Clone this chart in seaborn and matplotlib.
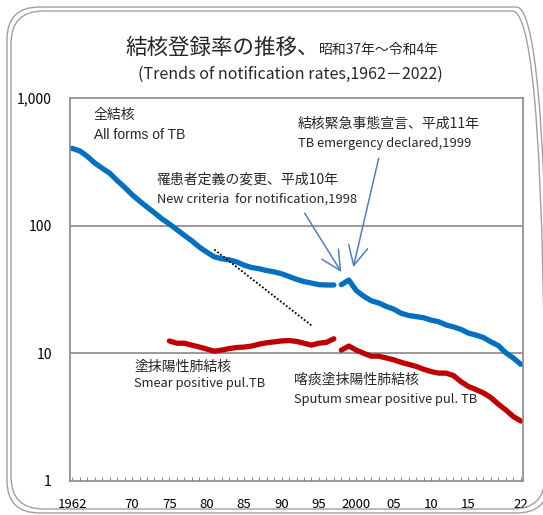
import numpy as np
import pandas as pd
import matplotlib
matplotlib.use("Agg")
import matplotlib.pyplot as plt
import seaborn as sns
from matplotlib.patches import FancyBboxPatch

# ---------------- data ----------------
all_years_1 = list(range(1962, 1998))
all_tb_1 = [403, 385, 350, 310, 282, 258, 226, 200, 175, 156, 140, 126, 113, 103,
            93, 84, 76, 68, 62, 57, 55, 54, 52, 49, 47, 46, 44.5, 43.5, 42, 40,
            38, 36.5, 35.5, 34.5, 34.3, 34.3]
all_years_2 = list(range(1998, 2023))
all_tb_2 = [34.5, 37.5, 31.0, 28.0, 25.8, 24.8, 23.3, 22.2, 20.6, 19.8, 19.4, 19.0,
            18.2, 17.7, 16.7, 16.1, 15.4, 14.4, 13.9, 13.3, 12.3, 11.5, 10.1, 9.2, 8.2]
smear_years = list(range(1975, 1998))
smear_pos = [12.5, 12.0, 12.0, 11.6, 11.2, 10.8, 10.4, 10.6, 10.9, 11.1, 11.2, 11.4,
             11.8, 12.1, 12.3, 12.5, 12.6, 12.4, 12.0, 11.6, 12.0, 12.2, 13.0]
sputum_years = list(range(1998, 2023))
sputum_pos = [10.6, 11.4, 10.6, 10.0, 9.5, 9.5, 9.2, 8.9, 8.5, 8.2, 7.9, 7.5, 7.2,
              7.0, 7.0, 6.7, 6.0, 5.5, 5.2, 4.9, 4.5, 4.0, 3.6, 3.2, 2.95]
trend_years = [1981, 1994.2]
trend_vals = [65, 16.2]

xtick_pos = [1962, 1970, 1975, 1980, 1985, 1990, 1995, 2000, 2005, 2010, 2015, 2022]
xtick_labels = ["1962", "70", "75", "80", "85", "90", "95", "2000", "05", "10", "15", "22"]
ytick_pos = [1, 10, 100, 1000]
ytick_labels = ["1", "10", "100", "1,000"]

# arrow (tail -> head) targets in data units
arrow_1998 = ((1993.1, 125), (1998.0, 43.3))
arrow_1999 = ((2003.0, 338), (1999.6, 47.3))

# ---------------- style ----------------
sns.set_theme(style="white")
JP = ["Noto Sans CJK JP", "DejaVu Sans"]
plt.rcParams["font.family"] = JP

BLUE = "#0070C0"
RED = "#C00000"
GRAY = "#898989"
ARROW = "#4F7FC0"

fig = plt.figure(figsize=(5.43, 5.15), dpi=100)
W, H = 543, 515
ax = fig.add_axes([70 / W, 1 - 481 / H, 453 / W, 383 / H])

def seg(x, y, color):
    df = pd.DataFrame({"year": x, "rate": y})
    sns.lineplot(data=df, x="year", y="rate", ax=ax, color=color, lw=3.8,
                 solid_capstyle="round", solid_joinstyle="round")

seg(all_years_1, all_tb_1, BLUE)
seg(all_years_2, all_tb_2, BLUE)
seg(smear_years, smear_pos, RED)
seg(sputum_years, sputum_pos, RED)
ax.plot(trend_years, trend_vals, color="black", lw=1.3, ls=(0, (1, 1.1)))

ax.set_yscale("log")
ax.set_ylim(1, 1000)
ax.set_xlim(1961.7, 2022.3)
ax.set_yticks(ytick_pos)
ax.set_yticklabels(ytick_labels)
ax.yaxis.set_minor_locator(matplotlib.ticker.NullLocator())
ax.set_xticks(xtick_pos)
ax.set_xticklabels(xtick_labels)
ax.set_xticks(list(range(1962, 2023)), minor=True)
ax.set_xlabel("")
ax.set_ylabel("")

ax.tick_params(axis="y", length=0, pad=13, labelsize=10, labelcolor="#000000")
ax.tick_params(axis="x", which="both", direction="in", length=3, width=0.8,
               color=GRAY, pad=12, labelsize=9.5, labelcolor="#000000", bottom=True)

for s in ax.spines.values():
    s.set_visible(True)
    s.set_color(GRAY)
    s.set_linewidth(1.2)
for yv in [10, 100]:
    ax.axhline(yv, color=GRAY, lw=1.2, zorder=0)

# arrows
for (tail, head) in [arrow_1998, arrow_1999]:
    ax.annotate("", xy=head, xytext=tail,
                arrowprops=dict(arrowstyle="->,head_length=1.0,head_width=0.5",
                                color=ARROW, lw=1.1, mutation_scale=14,
                                shrinkA=0, shrinkB=0))

# annotations (axes-fraction positions)
def afx(px):
    return (px - 70) / 453

def afy(py):
    return (481 - py) / 383

ax.text(afx(94), afy(115), "全結核", transform=ax.transAxes, fontsize=10, va="center", ha="left")
ax.text(afx(94), afy(135), "All forms of TB", transform=ax.transAxes, fontsize=10,
        va="center", ha="left", family=["Liberation Sans", "DejaVu Sans"])
ax.text(afx(157), afy(180), "罹患者定義の変更、平成10年", transform=ax.transAxes, fontsize=10, va="center", ha="left")
ax.text(afx(157), afy(199), "New criteria  for notification,1998", transform=ax.transAxes, fontsize=9.3, va="center", ha="left")
ax.text(afx(298), afy(124), "結核緊急事態宣言、平成11年", transform=ax.transAxes, fontsize=10, va="center", ha="left")
ax.text(afx(298), afy(143), "TB emergency declared,1999", transform=ax.transAxes, fontsize=9.3, va="center", ha="left")
ax.text(afx(134), afy(367), "塗抹陽性肺結核", transform=ax.transAxes, fontsize=10, va="center", ha="left")
ax.text(afx(134), afy(384), "Smear positive pul.TB", transform=ax.transAxes, fontsize=9.3, va="center", ha="left")
ax.text(afx(294), afy(380), "喀痰塗抹陽性肺結核", transform=ax.transAxes, fontsize=10, va="center", ha="left")
ax.text(afx(294), afy(399), "Sputum smear positive pul. TB", transform=ax.transAxes, fontsize=9.3, va="center", ha="left")

# title
fig.text(319 / W, 1 - 54 / H, "結核登録率の推移、", fontsize=15.5, ha="right", va="baseline")
fig.text(319 / W, 1 - 54 / H, "昭和37年～令和4年", fontsize=10, ha="left", va="baseline")
fig.text(290 / W, 1 - 74 / H, "(Trends of notification rates,1962－2022)", fontsize=11.5,
         ha="center", va="center")

# rounded double frame
for (x0, y0, x1, y1) in [(7, 7, 549, 513), (11, 11, 545, 509)]:
    box = FancyBboxPatch((x0 / W, 1 - y1 / H), (x1 - x0) / W, (y1 - y0) / H,
                         boxstyle="round,pad=0,rounding_size=0.06",
                         mutation_aspect=W / H,
                         transform=fig.transFigure, fill=False,
                         edgecolor="#A0A0A0", lw=1.0, clip_on=False)
    fig.add_artist(box)

fig.savefig("out.png", dpi=100)
